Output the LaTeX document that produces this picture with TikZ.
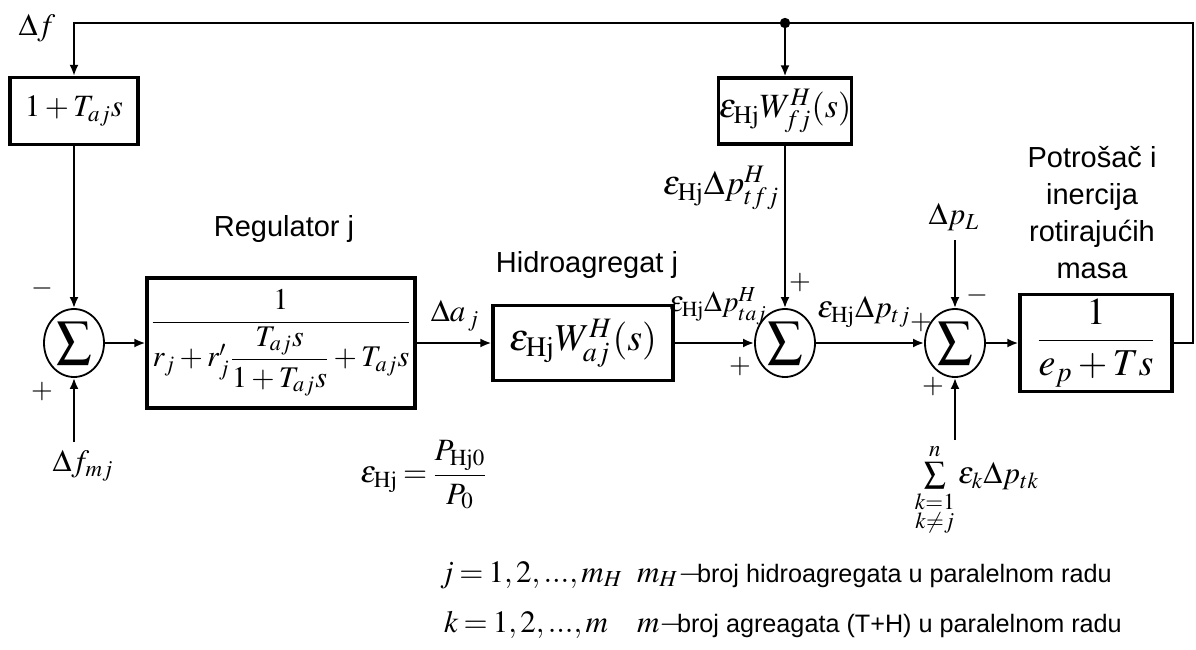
\documentclass[tikz,border=0pt]{standalone}
\usepackage{amsmath}
\usepackage{mathptmx}
\usepackage[no-math]{fontspec}
\setsansfont{Liberation Sans}
\usetikzlibrary{arrows.meta, shapes.geometric}

\medmuskip=2.5mu plus 1mu minus 1mu
\thickmuskip=3mu plus 2mu

\tikzset{
    blok/.style={draw, line width=1.6pt, inner sep=0pt},
    suma/.style={draw, ellipse, line width=0.9pt, minimum width=30pt, minimum height=34pt,
        inner sep=0pt, font=\fontsize{25}{25}\selectfont},
    veza/.style={line width=1.1pt, -{Latex[length=5.5pt,width=4.5pt]}},
    opis/.style={font=\fontsize{14.5}{18.5}\selectfont\sffamily, align=center},
    mat/.style={font=\fontsize{15.5}{18}\selectfont},
    velikimat/.style={font=\fontsize{17}{20}\selectfont},
    malimat/.style={font=\fontsize{14.5}{17}\selectfont},
    znak/.style={font=\fontsize{14}{14}\selectfont},
    donji/.style={font=\fontsize{12.6}{15}\selectfont\sffamily, anchor=base west},
}

\begin{document}
\begin{tikzpicture}[x=0.5pt, y=-0.5pt]
    \useasboundingbox (0,0) rectangle (1196,649);

    % Blokovi
    \node[blok, mat, minimum width=64pt, minimum height=33.5pt] (derivator) at (74,111) {$1+T_{aj}s$};
    \node[blok, font=\fontsize{15}{18}\selectfont, minimum width=134pt, minimum height=65pt] (regulator) at (281,343)
        {$\dfrac{1}{r_j+r'_j\dfrac{T_{aj}s}{1+T_{aj}s}+T_{aj}s}$};
    \node[blok, font=\fontsize{19}{22}\selectfont, minimum width=90pt, minimum height=37.5pt] (hidro) at (583,343)
        {$\varepsilon_{\mathrm{Hj}}W^{H}_{aj}(s)$};
    \node[blok, velikimat, minimum width=64pt, minimum height=33pt] (wfj) at (785,111)
        {$\varepsilon_{\mathrm{Hj}}W^{H}_{fj}(s)$};
    \node[blok, font=\fontsize{19}{22}\selectfont, minimum width=76pt, minimum height=48.5pt] (potrosac) at (1096,343)
        {$\dfrac{1}{e_p+Ts}$};

    % Sumatori
    \node[suma] (sum1) at (74,343) {$\sum$};
    \node[suma] (sum2) at (785,343) {$\sum$};
    \node[suma] (sum3) at (955,343) {$\sum$};

    % Povratna sprega
    \coordinate (gore) at (74,23);
    \coordinate (desno) at (1193,23);
    \coordinate (cvor) at (785,23);
    \coordinate (ulaz) at (74,442);
    \coordinate (opterecenje) at (955,240);
    \coordinate (ostali) at (955,440);

    \draw[veza] (potrosac.east) -| (desno) -- (gore) -- (derivator);
    \fill (cvor) circle (2.6pt);
    \draw[veza] (cvor) -- (wfj);

    \draw[veza] (derivator) -- (sum1);
    \draw[veza] (ulaz) -- (sum1);
    \draw[veza] (sum1) -- (regulator);
    \draw[veza] (regulator) -- (hidro);
    \draw[veza] (hidro) -- (sum2);
    \draw[veza] (wfj) -- (sum2);
    \draw[veza] (sum2) -- (sum3);
    \draw[veza] (opterecenje) -- (sum3);
    \draw[veza] (ostali) -- (sum3);
    \draw[veza] (sum3) -- (potrosac);

    % Oznake signala
    \node[mat] (df) at (37,28) {$\Delta f$};
    \node[mat] (dfmj) at (83,466) {$\Delta f_{mj}$};
    \node[mat] (daj) at (455,316) {$\Delta a_{\,j}$};
    \node[velikimat] (ptfj) at (721,188) {$\varepsilon_{\mathrm{Hj}}\Delta p^{H}_{tfj}$};
    \node[malimat] (ptaj) at (718,306) {$\varepsilon_{\mathrm{Hj}}\Delta p^{H}_{taj}$};
    \node[mat] (ptj) at (864,312) {$\varepsilon_{\mathrm{Hj}}\Delta p_{tj}$};
    \node[mat] (dpl) at (954,217) {$\Delta p_{L}$};
    \node[mat] (ostalisum) at (977,490)
        {$\sum\limits_{\substack{k=1\\k\neq j}}^{n}\varepsilon_k\Delta p_{tk}$};
    \node[mat] (eps) at (424,475) {$\varepsilon_{\mathrm{Hj}}=\dfrac{P_{\mathrm{Hj}0}}{P_0}$};

    % Predznaci
    \node[znak] (m1) at (42,288) {$-$};
    \node[znak] (p1) at (42,392) {$+$};
    \node[znak] (p2) at (800,283) {$+$};
    \node[znak] (p3) at (740,367) {$+$};
    \node[znak] (p4) at (921,323) {$+$};
    \node[znak] (m3) at (977,295) {$-$};
    \node[znak] (p5) at (933,387) {$+$};

    % Naslovi blokova
    \node[opis] (nreg) at (284,229) {Regulator j};
    \node[opis] (nhid) at (587,265) {Hidroagregat j};
    \node[opis] (npot) at (1092,213) {Potrošač i\\inercija\\rotirajućih\\masa};

    % Legenda
    \node[mat, anchor=base west] (jopseg) at (433,582) {$j=1,2,...,m_H$};
    \node[mat, anchor=base west] (mh) at (630,582) {$m_H-$};
    \node[donji] (mhtekst) at (690,582) {broj hidroagregata u paralelnom radu};
    \node[mat, anchor=base west] (kopseg) at (437,632) {$k=1,2,...,m$};
    \node[mat, anchor=base west] (m) at (630,632) {$m-$};
    \node[donji] (mtekst) at (670,632) {broj agreagata (T+H) u paralelnom radu};
\end{tikzpicture}
\end{document}
